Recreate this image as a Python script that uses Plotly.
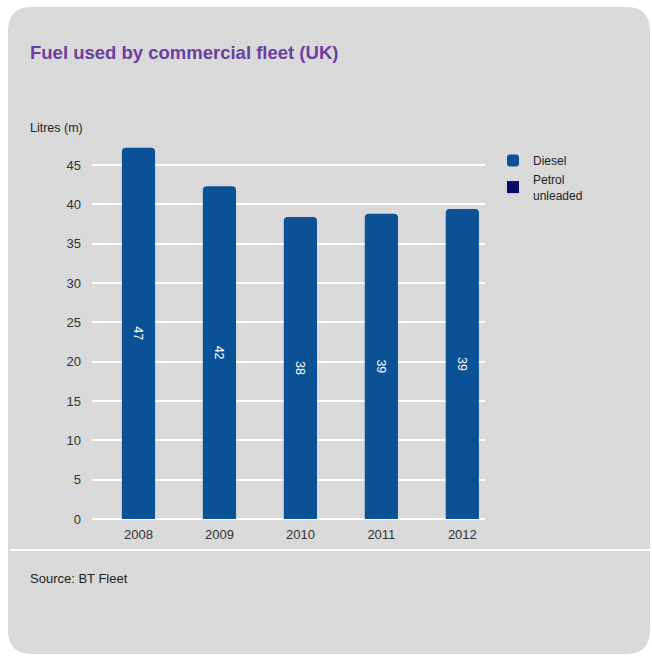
import plotly.graph_objects as go

years = ["2008", "2009", "2010", "2011", "2012"]
diesel = [47.2, 42.3, 38.4, 38.8, 39.4]
diesel_labels = ["47", "42", "38", "39", "39"]
petrol = [None, None, None, None, None]
y_ticks = [0, 5, 10, 15, 20, 25, 30, 35, 40, 45]

W, H = 652, 658
L, R, T, B = 92, 167, 140, 139
PW, PH = W - L - R, H - T - B

def px(x):
    return (x - L) / PW

def py(y):
    return (H - B - y) / PH

fig = go.Figure()
fig.add_trace(go.Bar(
    x=years, y=diesel, name="Diesel", text=diesel_labels,
    textposition="inside", insidetextanchor="middle", textangle=90,
    textfont=dict(color="white", size=12.5, family="Liberation Sans"),
    marker=dict(color="#0b5196", cornerradius=4, line=dict(width=0)),
    width=0.41,
))
fig.add_trace(go.Bar(
    x=years, y=petrol, name="Petrol<br>unleaded",
    marker=dict(color="#0b0b6b", line=dict(width=0)), width=0.41,
))

# card background
x0, x1, y0, y1, r = 8, 650, 7, 654, 24
def P(x, y):
    return f"{px(x):.5f},{py(y):.5f}"
path = (f"M {P(x0 + r, y0)} L {P(x1 - r, y0)} Q {P(x1, y0)} {P(x1, y0 + r)} "
        f"L {P(x1, y1 - r)} Q {P(x1, y1)} {P(x1 - r, y1)} "
        f"L {P(x0 + r, y1)} Q {P(x0, y1)} {P(x0, y1 - r)} "
        f"L {P(x0, y0 + r)} Q {P(x0, y0)} {P(x0 + r, y0)} Z")
shapes = [
    dict(type="path", xref="paper", yref="paper", path=path,
         fillcolor="#d9d9d9", line=dict(width=0), layer="below"),
    dict(type="line", xref="paper", yref="paper", x0=px(10), x1=px(652),
         y0=py(550), y1=py(550), line=dict(color="white", width=2), layer="below"),
]

annotations = [
    dict(text="<b>Fuel used by commercial fleet (UK)</b>", xref="paper", yref="paper",
         x=px(28), y=py(52), xanchor="left", yanchor="middle", showarrow=False,
         font=dict(size=18.5, color="#6b3fa0", family="Liberation Sans")),
    dict(text="Litres (m)", xref="paper", yref="paper",
         x=px(28), y=py(128), xanchor="left", yanchor="middle", showarrow=False,
         font=dict(size=12.5, color="#222222", family="Liberation Sans")),
    dict(text="Source: BT Fleet", xref="paper", yref="paper",
         x=px(28), y=py(578), xanchor="left", yanchor="middle", showarrow=False,
         font=dict(size=13, color="#222222", family="Liberation Sans")),
]

fig.update_layout(
    width=W, height=H, margin=dict(l=L, r=R, t=T, b=B),
    paper_bgcolor="white", plot_bgcolor="rgba(0,0,0,0)",
    barmode="overlay", shapes=shapes, annotations=annotations,
    font=dict(family="Liberation Sans", size=13, color="#333333"),
    legend=dict(x=px(493), y=py(146), xanchor="left", yanchor="top",
                font=dict(size=12, color="#222222"), bgcolor="rgba(0,0,0,0)",
                tracegroupgap=2, itemwidth=30),
    xaxis=dict(type="category", range=[-0.574, 4.28], showgrid=False,
               showline=False, zeroline=False, ticks="", ticklabelstandoff=6,
               tickfont=dict(size=13, color="#333333")),
    yaxis=dict(range=[0, (H - B - T) / 7.867], tickvals=y_ticks,
               showgrid=True, gridcolor="white", gridwidth=2,
               zeroline=True, zerolinecolor="white", zerolinewidth=2,
               showline=False, ticks="", ticklabelstandoff=10,
               tickfont=dict(size=13, color="#333333")),
    showlegend=True,
)

fig.write_html("out.html")
